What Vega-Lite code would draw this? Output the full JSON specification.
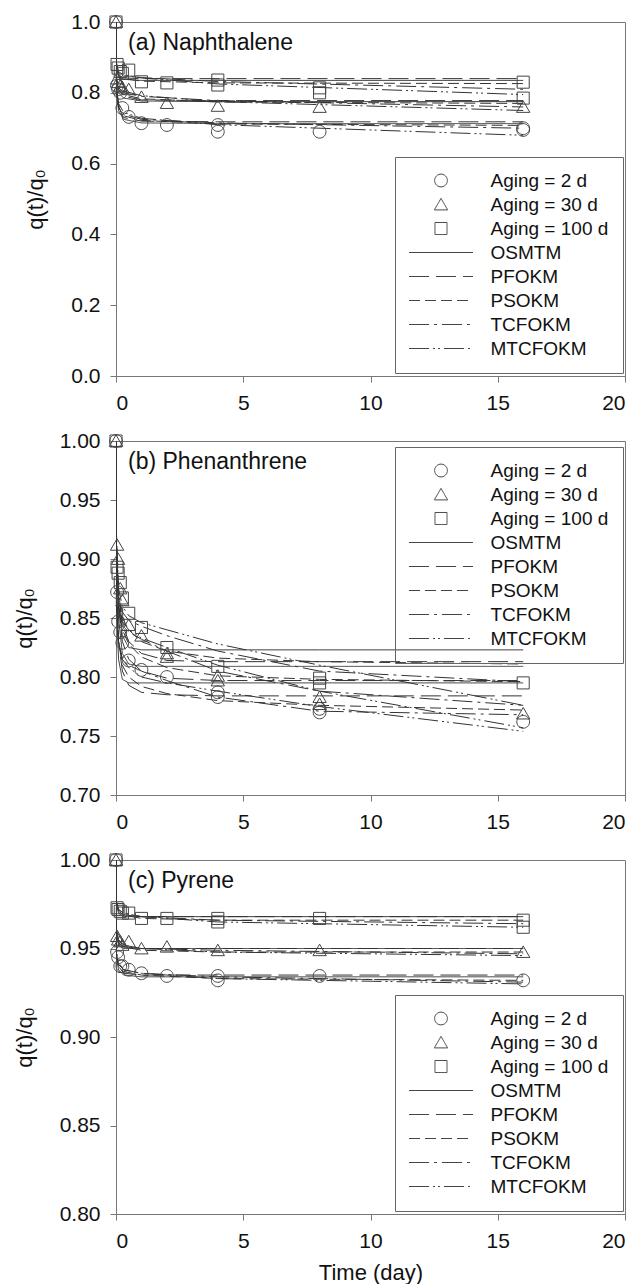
{
"$schema": "https://vega.github.io/schema/vega-lite/v6.json",
"background": "white",
"padding": {"left": 12, "top": 10, "right": 5, "bottom": 0},
"config": {
  "font": "Liberation Sans",
  "view": {"stroke": "#777", "strokeWidth": 1},
  "axis": {"domainColor": "#777", "tickColor": "#777", "labelColor": "#111", "titleColor": "#111", "labelFontSize": 21, "titleFontSize": 22, "titleFontWeight": "normal", "grid": false, "tickSize": 6, "labelPadding": 10, "labelFont": "Liberation Sans", "titleFont": "Liberation Sans"},
  "axisY": {"titlePadding": 23},
  "axisX": {"titlePadding": 11},
  "legend": {"orient": "none", "strokeColor": "#666", "padding": 14, "labelFontSize": 19, "labelFont": "Liberation Sans", "labelColor": "#111", "labelOffset": 40, "symbolOffset": 22.5, "rowPadding": 4.0, "symbolStrokeWidth": 1, "symbolStrokeColor": "#444", "symbolFillColor": "transparent", "symbolSize": 324},
  "title": {"fontSize": 23, "fontWeight": "normal", "anchor": "start", "frame": "group", "color": "#111", "font": "Liberation Sans"}
},
"datasets": {
"pts": [
{"p":"a","s":"Aging = 2 d","t":0,"v":1.0},{"p":"a","s":"Aging = 2 d","t":0.042,"v":0.82},{"p":"a","s":"Aging = 2 d","t":0.083,"v":0.81},{"p":"a","s":"Aging = 2 d","t":0.167,"v":0.8},{"p":"a","s":"Aging = 2 d","t":0.25,"v":0.757},{"p":"a","s":"Aging = 2 d","t":0.5,"v":0.732},{"p":"a","s":"Aging = 2 d","t":1,"v":0.714},{"p":"a","s":"Aging = 2 d","t":2,"v":0.709},{"p":"a","s":"Aging = 2 d","t":4,"v":0.709},{"p":"a","s":"Aging = 2 d","t":4,"v":0.69},{"p":"a","s":"Aging = 2 d","t":8,"v":0.69},{"p":"a","s":"Aging = 2 d","t":16,"v":0.695},{"p":"a","s":"Aging = 2 d","t":16,"v":0.7},
{"p":"a","s":"Aging = 30 d","t":0,"v":1.0},{"p":"a","s":"Aging = 30 d","t":0.042,"v":0.84},{"p":"a","s":"Aging = 30 d","t":0.083,"v":0.83},{"p":"a","s":"Aging = 30 d","t":0.167,"v":0.82},{"p":"a","s":"Aging = 30 d","t":0.25,"v":0.815},{"p":"a","s":"Aging = 30 d","t":0.5,"v":0.81},{"p":"a","s":"Aging = 30 d","t":1,"v":0.788},{"p":"a","s":"Aging = 30 d","t":2,"v":0.771},{"p":"a","s":"Aging = 30 d","t":4,"v":0.763},{"p":"a","s":"Aging = 30 d","t":8,"v":0.76},{"p":"a","s":"Aging = 30 d","t":16,"v":0.76},
{"p":"a","s":"Aging = 100 d","t":0,"v":1.0},{"p":"a","s":"Aging = 100 d","t":0.042,"v":0.88},{"p":"a","s":"Aging = 100 d","t":0.083,"v":0.87},{"p":"a","s":"Aging = 100 d","t":0.167,"v":0.86},{"p":"a","s":"Aging = 100 d","t":0.25,"v":0.855},{"p":"a","s":"Aging = 100 d","t":0.5,"v":0.864},{"p":"a","s":"Aging = 100 d","t":1,"v":0.831},{"p":"a","s":"Aging = 100 d","t":2,"v":0.828},{"p":"a","s":"Aging = 100 d","t":4,"v":0.836},{"p":"a","s":"Aging = 100 d","t":4,"v":0.822},{"p":"a","s":"Aging = 100 d","t":8,"v":0.814},{"p":"a","s":"Aging = 100 d","t":8,"v":0.8},{"p":"a","s":"Aging = 100 d","t":16,"v":0.83},{"p":"a","s":"Aging = 100 d","t":16,"v":0.785},
{"p":"b","s":"Aging = 2 d","t":0,"v":1.0},{"p":"b","s":"Aging = 2 d","t":0.042,"v":0.872},{"p":"b","s":"Aging = 2 d","t":0.083,"v":0.847},{"p":"b","s":"Aging = 2 d","t":0.167,"v":0.838},{"p":"b","s":"Aging = 2 d","t":0.25,"v":0.829},{"p":"b","s":"Aging = 2 d","t":0.5,"v":0.814},{"p":"b","s":"Aging = 2 d","t":1,"v":0.806},{"p":"b","s":"Aging = 2 d","t":2,"v":0.8},{"p":"b","s":"Aging = 2 d","t":4,"v":0.787},{"p":"b","s":"Aging = 2 d","t":4,"v":0.783},{"p":"b","s":"Aging = 2 d","t":8,"v":0.773},{"p":"b","s":"Aging = 2 d","t":8,"v":0.77},{"p":"b","s":"Aging = 2 d","t":16,"v":0.762},
{"p":"b","s":"Aging = 30 d","t":0,"v":1.0},{"p":"b","s":"Aging = 30 d","t":0.042,"v":0.912},{"p":"b","s":"Aging = 30 d","t":0.083,"v":0.9},{"p":"b","s":"Aging = 30 d","t":0.167,"v":0.875},{"p":"b","s":"Aging = 30 d","t":0.25,"v":0.865},{"p":"b","s":"Aging = 30 d","t":0.5,"v":0.844},{"p":"b","s":"Aging = 30 d","t":1,"v":0.835},{"p":"b","s":"Aging = 30 d","t":2,"v":0.82},{"p":"b","s":"Aging = 30 d","t":2,"v":0.817},{"p":"b","s":"Aging = 30 d","t":4,"v":0.801},{"p":"b","s":"Aging = 30 d","t":4,"v":0.797},{"p":"b","s":"Aging = 30 d","t":8,"v":0.783},{"p":"b","s":"Aging = 30 d","t":8,"v":0.777},{"p":"b","s":"Aging = 30 d","t":16,"v":0.769},
{"p":"b","s":"Aging = 100 d","t":0,"v":1.0},{"p":"b","s":"Aging = 100 d","t":0.042,"v":0.893},{"p":"b","s":"Aging = 100 d","t":0.083,"v":0.888},{"p":"b","s":"Aging = 100 d","t":0.167,"v":0.88},{"p":"b","s":"Aging = 100 d","t":0.25,"v":0.867},{"p":"b","s":"Aging = 100 d","t":0.5,"v":0.854},{"p":"b","s":"Aging = 100 d","t":1,"v":0.842},{"p":"b","s":"Aging = 100 d","t":2,"v":0.825},{"p":"b","s":"Aging = 100 d","t":4,"v":0.809},{"p":"b","s":"Aging = 100 d","t":8,"v":0.799},{"p":"b","s":"Aging = 100 d","t":8,"v":0.795},{"p":"b","s":"Aging = 100 d","t":16,"v":0.795},
{"p":"c","s":"Aging = 2 d","t":0,"v":1.0},{"p":"c","s":"Aging = 2 d","t":0.042,"v":0.948},{"p":"c","s":"Aging = 2 d","t":0.083,"v":0.945},{"p":"c","s":"Aging = 2 d","t":0.167,"v":0.94},{"p":"c","s":"Aging = 2 d","t":0.25,"v":0.94},{"p":"c","s":"Aging = 2 d","t":0.5,"v":0.938},{"p":"c","s":"Aging = 2 d","t":1,"v":0.936},{"p":"c","s":"Aging = 2 d","t":2,"v":0.9345},{"p":"c","s":"Aging = 2 d","t":4,"v":0.9345},{"p":"c","s":"Aging = 2 d","t":4,"v":0.932},{"p":"c","s":"Aging = 2 d","t":8,"v":0.9345},{"p":"c","s":"Aging = 2 d","t":16,"v":0.932},
{"p":"c","s":"Aging = 30 d","t":0,"v":1.0},{"p":"c","s":"Aging = 30 d","t":0.042,"v":0.957},{"p":"c","s":"Aging = 30 d","t":0.083,"v":0.955},{"p":"c","s":"Aging = 30 d","t":0.167,"v":0.954},{"p":"c","s":"Aging = 30 d","t":0.25,"v":0.952},{"p":"c","s":"Aging = 30 d","t":0.5,"v":0.954},{"p":"c","s":"Aging = 30 d","t":1,"v":0.95},{"p":"c","s":"Aging = 30 d","t":2,"v":0.951},{"p":"c","s":"Aging = 30 d","t":4,"v":0.949},{"p":"c","s":"Aging = 30 d","t":8,"v":0.949},{"p":"c","s":"Aging = 30 d","t":16,"v":0.948},
{"p":"c","s":"Aging = 100 d","t":0,"v":1.0},{"p":"c","s":"Aging = 100 d","t":0.042,"v":0.973},{"p":"c","s":"Aging = 100 d","t":0.083,"v":0.972},{"p":"c","s":"Aging = 100 d","t":0.167,"v":0.971},{"p":"c","s":"Aging = 100 d","t":0.25,"v":0.97},{"p":"c","s":"Aging = 100 d","t":0.5,"v":0.97},{"p":"c","s":"Aging = 100 d","t":1,"v":0.967},{"p":"c","s":"Aging = 100 d","t":2,"v":0.967},{"p":"c","s":"Aging = 100 d","t":4,"v":0.967},{"p":"c","s":"Aging = 100 d","t":4,"v":0.965},{"p":"c","s":"Aging = 100 d","t":8,"v":0.967},{"p":"c","s":"Aging = 100 d","t":16,"v":0.966},{"p":"c","s":"Aging = 100 d","t":16,"v":0.962}
],
"crv": [
{"p":"a","s":"OSMTM","g":"100","t":0,"v":1},{"p":"a","s":"OSMTM","g":"100","t":0.02,"v":0.87},{"p":"a","s":"OSMTM","g":"100","t":0.1,"v":0.845},{"p":"a","s":"OSMTM","g":"100","t":0.3,"v":0.838},{"p":"a","s":"OSMTM","g":"100","t":1,"v":0.835},{"p":"a","s":"OSMTM","g":"100","t":4,"v":0.835},{"p":"a","s":"OSMTM","g":"100","t":16,"v":0.835},
{"p":"a","s":"PFOKM","g":"100","t":0,"v":1},{"p":"a","s":"PFOKM","g":"100","t":0.02,"v":0.88},{"p":"a","s":"PFOKM","g":"100","t":0.1,"v":0.85},{"p":"a","s":"PFOKM","g":"100","t":0.3,"v":0.842},{"p":"a","s":"PFOKM","g":"100","t":1,"v":0.84},{"p":"a","s":"PFOKM","g":"100","t":4,"v":0.84},{"p":"a","s":"PFOKM","g":"100","t":16,"v":0.84},
{"p":"a","s":"PSOKM","g":"100","t":0,"v":1},{"p":"a","s":"PSOKM","g":"100","t":0.02,"v":0.875},{"p":"a","s":"PSOKM","g":"100","t":0.1,"v":0.85},{"p":"a","s":"PSOKM","g":"100","t":0.3,"v":0.84},{"p":"a","s":"PSOKM","g":"100","t":1,"v":0.833},{"p":"a","s":"PSOKM","g":"100","t":4,"v":0.828},{"p":"a","s":"PSOKM","g":"100","t":16,"v":0.826},
{"p":"a","s":"TCFOKM","g":"100","t":0,"v":1},{"p":"a","s":"TCFOKM","g":"100","t":0.02,"v":0.88},{"p":"a","s":"TCFOKM","g":"100","t":0.1,"v":0.855},{"p":"a","s":"TCFOKM","g":"100","t":0.3,"v":0.848},{"p":"a","s":"TCFOKM","g":"100","t":1,"v":0.843},{"p":"a","s":"TCFOKM","g":"100","t":4,"v":0.832},{"p":"a","s":"TCFOKM","g":"100","t":16,"v":0.81},
{"p":"a","s":"MTCFOKM","g":"100","t":0,"v":1},{"p":"a","s":"MTCFOKM","g":"100","t":0.02,"v":0.885},{"p":"a","s":"MTCFOKM","g":"100","t":0.1,"v":0.86},{"p":"a","s":"MTCFOKM","g":"100","t":0.3,"v":0.85},{"p":"a","s":"MTCFOKM","g":"100","t":1,"v":0.842},{"p":"a","s":"MTCFOKM","g":"100","t":4,"v":0.825},{"p":"a","s":"MTCFOKM","g":"100","t":16,"v":0.795},
{"p":"a","s":"OSMTM","g":"30","t":0,"v":1},{"p":"a","s":"OSMTM","g":"30","t":0.02,"v":0.83},{"p":"a","s":"OSMTM","g":"30","t":0.1,"v":0.8},{"p":"a","s":"OSMTM","g":"30","t":0.3,"v":0.785},{"p":"a","s":"OSMTM","g":"30","t":1,"v":0.777},{"p":"a","s":"OSMTM","g":"30","t":4,"v":0.775},{"p":"a","s":"OSMTM","g":"30","t":16,"v":0.775},
{"p":"a","s":"PFOKM","g":"30","t":0,"v":1},{"p":"a","s":"PFOKM","g":"30","t":0.02,"v":0.84},{"p":"a","s":"PFOKM","g":"30","t":0.1,"v":0.81},{"p":"a","s":"PFOKM","g":"30","t":0.3,"v":0.79},{"p":"a","s":"PFOKM","g":"30","t":1,"v":0.78},{"p":"a","s":"PFOKM","g":"30","t":4,"v":0.778},{"p":"a","s":"PFOKM","g":"30","t":16,"v":0.778},
{"p":"a","s":"PSOKM","g":"30","t":0,"v":1},{"p":"a","s":"PSOKM","g":"30","t":0.02,"v":0.835},{"p":"a","s":"PSOKM","g":"30","t":0.1,"v":0.81},{"p":"a","s":"PSOKM","g":"30","t":0.3,"v":0.795},{"p":"a","s":"PSOKM","g":"30","t":1,"v":0.783},{"p":"a","s":"PSOKM","g":"30","t":4,"v":0.774},{"p":"a","s":"PSOKM","g":"30","t":16,"v":0.77},
{"p":"a","s":"TCFOKM","g":"30","t":0,"v":1},{"p":"a","s":"TCFOKM","g":"30","t":0.02,"v":0.84},{"p":"a","s":"TCFOKM","g":"30","t":0.1,"v":0.815},{"p":"a","s":"TCFOKM","g":"30","t":0.3,"v":0.8},{"p":"a","s":"TCFOKM","g":"30","t":1,"v":0.79},{"p":"a","s":"TCFOKM","g":"30","t":4,"v":0.778},{"p":"a","s":"TCFOKM","g":"30","t":16,"v":0.76},
{"p":"a","s":"MTCFOKM","g":"30","t":0,"v":1},{"p":"a","s":"MTCFOKM","g":"30","t":0.02,"v":0.845},{"p":"a","s":"MTCFOKM","g":"30","t":0.1,"v":0.82},{"p":"a","s":"MTCFOKM","g":"30","t":0.3,"v":0.805},{"p":"a","s":"MTCFOKM","g":"30","t":1,"v":0.792},{"p":"a","s":"MTCFOKM","g":"30","t":4,"v":0.775},{"p":"a","s":"MTCFOKM","g":"30","t":16,"v":0.75},
{"p":"a","s":"OSMTM","g":"2","t":0,"v":1},{"p":"a","s":"OSMTM","g":"2","t":0.02,"v":0.8},{"p":"a","s":"OSMTM","g":"2","t":0.1,"v":0.75},{"p":"a","s":"OSMTM","g":"2","t":0.3,"v":0.725},{"p":"a","s":"OSMTM","g":"2","t":1,"v":0.715},{"p":"a","s":"OSMTM","g":"2","t":4,"v":0.713},{"p":"a","s":"OSMTM","g":"2","t":16,"v":0.713},
{"p":"a","s":"PFOKM","g":"2","t":0,"v":1},{"p":"a","s":"PFOKM","g":"2","t":0.02,"v":0.81},{"p":"a","s":"PFOKM","g":"2","t":0.1,"v":0.76},{"p":"a","s":"PFOKM","g":"2","t":0.3,"v":0.73},{"p":"a","s":"PFOKM","g":"2","t":1,"v":0.72},{"p":"a","s":"PFOKM","g":"2","t":4,"v":0.718},{"p":"a","s":"PFOKM","g":"2","t":16,"v":0.718},
{"p":"a","s":"PSOKM","g":"2","t":0,"v":1},{"p":"a","s":"PSOKM","g":"2","t":0.02,"v":0.8},{"p":"a","s":"PSOKM","g":"2","t":0.1,"v":0.76},{"p":"a","s":"PSOKM","g":"2","t":0.3,"v":0.735},{"p":"a","s":"PSOKM","g":"2","t":1,"v":0.722},{"p":"a","s":"PSOKM","g":"2","t":4,"v":0.712},{"p":"a","s":"PSOKM","g":"2","t":16,"v":0.708},
{"p":"a","s":"TCFOKM","g":"2","t":0,"v":1},{"p":"a","s":"TCFOKM","g":"2","t":0.02,"v":0.81},{"p":"a","s":"TCFOKM","g":"2","t":0.1,"v":0.765},{"p":"a","s":"TCFOKM","g":"2","t":0.3,"v":0.74},{"p":"a","s":"TCFOKM","g":"2","t":1,"v":0.725},{"p":"a","s":"TCFOKM","g":"2","t":4,"v":0.715},{"p":"a","s":"TCFOKM","g":"2","t":16,"v":0.7},
{"p":"a","s":"MTCFOKM","g":"2","t":0,"v":1},{"p":"a","s":"MTCFOKM","g":"2","t":0.02,"v":0.815},{"p":"a","s":"MTCFOKM","g":"2","t":0.1,"v":0.77},{"p":"a","s":"MTCFOKM","g":"2","t":0.3,"v":0.745},{"p":"a","s":"MTCFOKM","g":"2","t":1,"v":0.728},{"p":"a","s":"MTCFOKM","g":"2","t":4,"v":0.71},{"p":"a","s":"MTCFOKM","g":"2","t":16,"v":0.68},
{"p":"b","s":"OSMTM","g":"100","t":0,"v":1},{"p":"b","s":"OSMTM","g":"100","t":0.02,"v":0.9},{"p":"b","s":"OSMTM","g":"100","t":0.1,"v":0.86},{"p":"b","s":"OSMTM","g":"100","t":0.25,"v":0.835},{"p":"b","s":"OSMTM","g":"100","t":0.5,"v":0.825},{"p":"b","s":"OSMTM","g":"100","t":1,"v":0.823},{"p":"b","s":"OSMTM","g":"100","t":2,"v":0.823},{"p":"b","s":"OSMTM","g":"100","t":4,"v":0.823},{"p":"b","s":"OSMTM","g":"100","t":8,"v":0.823},{"p":"b","s":"OSMTM","g":"100","t":16,"v":0.823},
{"p":"b","s":"PFOKM","g":"100","t":0,"v":1},{"p":"b","s":"PFOKM","g":"100","t":0.02,"v":0.92},{"p":"b","s":"PFOKM","g":"100","t":0.1,"v":0.87},{"p":"b","s":"PFOKM","g":"100","t":0.25,"v":0.845},{"p":"b","s":"PFOKM","g":"100","t":0.5,"v":0.83},{"p":"b","s":"PFOKM","g":"100","t":1,"v":0.82},{"p":"b","s":"PFOKM","g":"100","t":2,"v":0.814},{"p":"b","s":"PFOKM","g":"100","t":4,"v":0.813},{"p":"b","s":"PFOKM","g":"100","t":8,"v":0.813},{"p":"b","s":"PFOKM","g":"100","t":16,"v":0.813},
{"p":"b","s":"PSOKM","g":"100","t":0,"v":1},{"p":"b","s":"PSOKM","g":"100","t":0.02,"v":0.91},{"p":"b","s":"PSOKM","g":"100","t":0.1,"v":0.87},{"p":"b","s":"PSOKM","g":"100","t":0.25,"v":0.85},{"p":"b","s":"PSOKM","g":"100","t":0.5,"v":0.84},{"p":"b","s":"PSOKM","g":"100","t":1,"v":0.83},{"p":"b","s":"PSOKM","g":"100","t":2,"v":0.822},{"p":"b","s":"PSOKM","g":"100","t":4,"v":0.816},{"p":"b","s":"PSOKM","g":"100","t":8,"v":0.813},{"p":"b","s":"PSOKM","g":"100","t":16,"v":0.811},
{"p":"b","s":"TCFOKM","g":"100","t":0,"v":1},{"p":"b","s":"TCFOKM","g":"100","t":0.02,"v":0.91},{"p":"b","s":"TCFOKM","g":"100","t":0.1,"v":0.87},{"p":"b","s":"TCFOKM","g":"100","t":0.25,"v":0.855},{"p":"b","s":"TCFOKM","g":"100","t":0.5,"v":0.848},{"p":"b","s":"TCFOKM","g":"100","t":1,"v":0.843},{"p":"b","s":"TCFOKM","g":"100","t":2,"v":0.835},{"p":"b","s":"TCFOKM","g":"100","t":4,"v":0.822},{"p":"b","s":"TCFOKM","g":"100","t":8,"v":0.805},{"p":"b","s":"TCFOKM","g":"100","t":16,"v":0.796},
{"p":"b","s":"MTCFOKM","g":"100","t":0,"v":1},{"p":"b","s":"MTCFOKM","g":"100","t":0.02,"v":0.92},{"p":"b","s":"MTCFOKM","g":"100","t":0.1,"v":0.875},{"p":"b","s":"MTCFOKM","g":"100","t":0.25,"v":0.86},{"p":"b","s":"MTCFOKM","g":"100","t":0.5,"v":0.852},{"p":"b","s":"MTCFOKM","g":"100","t":1,"v":0.846},{"p":"b","s":"MTCFOKM","g":"100","t":2,"v":0.84},{"p":"b","s":"MTCFOKM","g":"100","t":4,"v":0.828},{"p":"b","s":"MTCFOKM","g":"100","t":8,"v":0.81},{"p":"b","s":"MTCFOKM","g":"100","t":16,"v":0.776},
{"p":"b","s":"OSMTM","g":"30","t":0,"v":1},{"p":"b","s":"OSMTM","g":"30","t":0.02,"v":0.9},{"p":"b","s":"OSMTM","g":"30","t":0.1,"v":0.85},{"p":"b","s":"OSMTM","g":"30","t":0.25,"v":0.82},{"p":"b","s":"OSMTM","g":"30","t":0.5,"v":0.811},{"p":"b","s":"OSMTM","g":"30","t":1,"v":0.809},{"p":"b","s":"OSMTM","g":"30","t":2,"v":0.809},{"p":"b","s":"OSMTM","g":"30","t":4,"v":0.809},{"p":"b","s":"OSMTM","g":"30","t":8,"v":0.809},{"p":"b","s":"OSMTM","g":"30","t":16,"v":0.809},
{"p":"b","s":"PFOKM","g":"30","t":0,"v":1},{"p":"b","s":"PFOKM","g":"30","t":0.02,"v":0.91},{"p":"b","s":"PFOKM","g":"30","t":0.1,"v":0.86},{"p":"b","s":"PFOKM","g":"30","t":0.25,"v":0.83},{"p":"b","s":"PFOKM","g":"30","t":0.5,"v":0.815},{"p":"b","s":"PFOKM","g":"30","t":1,"v":0.805},{"p":"b","s":"PFOKM","g":"30","t":2,"v":0.799},{"p":"b","s":"PFOKM","g":"30","t":4,"v":0.797},{"p":"b","s":"PFOKM","g":"30","t":8,"v":0.797},{"p":"b","s":"PFOKM","g":"30","t":16,"v":0.797},
{"p":"b","s":"PSOKM","g":"30","t":0,"v":1},{"p":"b","s":"PSOKM","g":"30","t":0.02,"v":0.905},{"p":"b","s":"PSOKM","g":"30","t":0.1,"v":0.86},{"p":"b","s":"PSOKM","g":"30","t":0.25,"v":0.84},{"p":"b","s":"PSOKM","g":"30","t":0.5,"v":0.828},{"p":"b","s":"PSOKM","g":"30","t":1,"v":0.817},{"p":"b","s":"PSOKM","g":"30","t":2,"v":0.808},{"p":"b","s":"PSOKM","g":"30","t":4,"v":0.801},{"p":"b","s":"PSOKM","g":"30","t":8,"v":0.798},{"p":"b","s":"PSOKM","g":"30","t":16,"v":0.796},
{"p":"b","s":"TCFOKM","g":"30","t":0,"v":1},{"p":"b","s":"TCFOKM","g":"30","t":0.02,"v":0.9},{"p":"b","s":"TCFOKM","g":"30","t":0.1,"v":0.86},{"p":"b","s":"TCFOKM","g":"30","t":0.25,"v":0.845},{"p":"b","s":"TCFOKM","g":"30","t":0.5,"v":0.838},{"p":"b","s":"TCFOKM","g":"30","t":1,"v":0.832},{"p":"b","s":"TCFOKM","g":"30","t":2,"v":0.822},{"p":"b","s":"TCFOKM","g":"30","t":4,"v":0.805},{"p":"b","s":"TCFOKM","g":"30","t":8,"v":0.788},{"p":"b","s":"TCFOKM","g":"30","t":16,"v":0.776},
{"p":"b","s":"MTCFOKM","g":"30","t":0,"v":1},{"p":"b","s":"MTCFOKM","g":"30","t":0.02,"v":0.91},{"p":"b","s":"MTCFOKM","g":"30","t":0.1,"v":0.865},{"p":"b","s":"MTCFOKM","g":"30","t":0.25,"v":0.847},{"p":"b","s":"MTCFOKM","g":"30","t":0.5,"v":0.84},{"p":"b","s":"MTCFOKM","g":"30","t":1,"v":0.833},{"p":"b","s":"MTCFOKM","g":"30","t":2,"v":0.825},{"p":"b","s":"MTCFOKM","g":"30","t":4,"v":0.81},{"p":"b","s":"MTCFOKM","g":"30","t":8,"v":0.788},{"p":"b","s":"MTCFOKM","g":"30","t":16,"v":0.757},
{"p":"b","s":"OSMTM","g":"2","t":0,"v":1},{"p":"b","s":"OSMTM","g":"2","t":0.02,"v":0.86},{"p":"b","s":"OSMTM","g":"2","t":0.1,"v":0.815},{"p":"b","s":"OSMTM","g":"2","t":0.25,"v":0.798},{"p":"b","s":"OSMTM","g":"2","t":0.5,"v":0.795},{"p":"b","s":"OSMTM","g":"2","t":1,"v":0.795},{"p":"b","s":"OSMTM","g":"2","t":2,"v":0.795},{"p":"b","s":"OSMTM","g":"2","t":4,"v":0.795},{"p":"b","s":"OSMTM","g":"2","t":8,"v":0.795},{"p":"b","s":"OSMTM","g":"2","t":16,"v":0.795},
{"p":"b","s":"PFOKM","g":"2","t":0,"v":1},{"p":"b","s":"PFOKM","g":"2","t":0.02,"v":0.88},{"p":"b","s":"PFOKM","g":"2","t":0.1,"v":0.83},{"p":"b","s":"PFOKM","g":"2","t":0.25,"v":0.805},{"p":"b","s":"PFOKM","g":"2","t":0.5,"v":0.793},{"p":"b","s":"PFOKM","g":"2","t":1,"v":0.787},{"p":"b","s":"PFOKM","g":"2","t":2,"v":0.785},{"p":"b","s":"PFOKM","g":"2","t":4,"v":0.784},{"p":"b","s":"PFOKM","g":"2","t":8,"v":0.784},{"p":"b","s":"PFOKM","g":"2","t":16,"v":0.784},
{"p":"b","s":"PSOKM","g":"2","t":0,"v":1},{"p":"b","s":"PSOKM","g":"2","t":0.02,"v":0.87},{"p":"b","s":"PSOKM","g":"2","t":0.1,"v":0.83},{"p":"b","s":"PSOKM","g":"2","t":0.25,"v":0.81},{"p":"b","s":"PSOKM","g":"2","t":0.5,"v":0.8},{"p":"b","s":"PSOKM","g":"2","t":1,"v":0.792},{"p":"b","s":"PSOKM","g":"2","t":2,"v":0.786},{"p":"b","s":"PSOKM","g":"2","t":4,"v":0.78},{"p":"b","s":"PSOKM","g":"2","t":8,"v":0.776},{"p":"b","s":"PSOKM","g":"2","t":16,"v":0.772},
{"p":"b","s":"TCFOKM","g":"2","t":0,"v":1},{"p":"b","s":"TCFOKM","g":"2","t":0.02,"v":0.87},{"p":"b","s":"TCFOKM","g":"2","t":0.1,"v":0.83},{"p":"b","s":"TCFOKM","g":"2","t":0.25,"v":0.815},{"p":"b","s":"TCFOKM","g":"2","t":0.5,"v":0.81},{"p":"b","s":"TCFOKM","g":"2","t":1,"v":0.805},{"p":"b","s":"TCFOKM","g":"2","t":2,"v":0.797},{"p":"b","s":"TCFOKM","g":"2","t":4,"v":0.783},{"p":"b","s":"TCFOKM","g":"2","t":8,"v":0.771},{"p":"b","s":"TCFOKM","g":"2","t":16,"v":0.768},
{"p":"b","s":"MTCFOKM","g":"2","t":0,"v":1},{"p":"b","s":"MTCFOKM","g":"2","t":0.02,"v":0.87},{"p":"b","s":"MTCFOKM","g":"2","t":0.1,"v":0.83},{"p":"b","s":"MTCFOKM","g":"2","t":0.25,"v":0.815},{"p":"b","s":"MTCFOKM","g":"2","t":0.5,"v":0.808},{"p":"b","s":"MTCFOKM","g":"2","t":1,"v":0.8},{"p":"b","s":"MTCFOKM","g":"2","t":2,"v":0.795},{"p":"b","s":"MTCFOKM","g":"2","t":4,"v":0.788},{"p":"b","s":"MTCFOKM","g":"2","t":8,"v":0.775},{"p":"b","s":"MTCFOKM","g":"2","t":16,"v":0.754},
{"p":"c","s":"OSMTM","g":"100","t":0,"v":1},{"p":"c","s":"OSMTM","g":"100","t":0.02,"v":0.975},{"p":"c","s":"OSMTM","g":"100","t":0.1,"v":0.97},{"p":"c","s":"OSMTM","g":"100","t":0.3,"v":0.968},{"p":"c","s":"OSMTM","g":"100","t":1,"v":0.968},{"p":"c","s":"OSMTM","g":"100","t":4,"v":0.968},{"p":"c","s":"OSMTM","g":"100","t":16,"v":0.968},
{"p":"c","s":"PFOKM","g":"100","t":0,"v":1},{"p":"c","s":"PFOKM","g":"100","t":0.02,"v":0.976},{"p":"c","s":"PFOKM","g":"100","t":0.1,"v":0.971},{"p":"c","s":"PFOKM","g":"100","t":0.3,"v":0.969},{"p":"c","s":"PFOKM","g":"100","t":1,"v":0.968},{"p":"c","s":"PFOKM","g":"100","t":4,"v":0.968},{"p":"c","s":"PFOKM","g":"100","t":16,"v":0.968},
{"p":"c","s":"PSOKM","g":"100","t":0,"v":1},{"p":"c","s":"PSOKM","g":"100","t":0.02,"v":0.975},{"p":"c","s":"PSOKM","g":"100","t":0.1,"v":0.971},{"p":"c","s":"PSOKM","g":"100","t":0.3,"v":0.969},{"p":"c","s":"PSOKM","g":"100","t":1,"v":0.967},{"p":"c","s":"PSOKM","g":"100","t":4,"v":0.966},{"p":"c","s":"PSOKM","g":"100","t":16,"v":0.966},
{"p":"c","s":"TCFOKM","g":"100","t":0,"v":1},{"p":"c","s":"TCFOKM","g":"100","t":0.02,"v":0.976},{"p":"c","s":"TCFOKM","g":"100","t":0.1,"v":0.972},{"p":"c","s":"TCFOKM","g":"100","t":0.3,"v":0.97},{"p":"c","s":"TCFOKM","g":"100","t":1,"v":0.968},{"p":"c","s":"TCFOKM","g":"100","t":4,"v":0.966},{"p":"c","s":"TCFOKM","g":"100","t":16,"v":0.964},
{"p":"c","s":"MTCFOKM","g":"100","t":0,"v":1},{"p":"c","s":"MTCFOKM","g":"100","t":0.02,"v":0.977},{"p":"c","s":"MTCFOKM","g":"100","t":0.1,"v":0.972},{"p":"c","s":"MTCFOKM","g":"100","t":0.3,"v":0.97},{"p":"c","s":"MTCFOKM","g":"100","t":1,"v":0.968},{"p":"c","s":"MTCFOKM","g":"100","t":4,"v":0.965},{"p":"c","s":"MTCFOKM","g":"100","t":16,"v":0.962},
{"p":"c","s":"OSMTM","g":"30","t":0,"v":1},{"p":"c","s":"OSMTM","g":"30","t":0.02,"v":0.958},{"p":"c","s":"OSMTM","g":"30","t":0.1,"v":0.952},{"p":"c","s":"OSMTM","g":"30","t":0.3,"v":0.95},{"p":"c","s":"OSMTM","g":"30","t":1,"v":0.95},{"p":"c","s":"OSMTM","g":"30","t":4,"v":0.95},{"p":"c","s":"OSMTM","g":"30","t":16,"v":0.95},
{"p":"c","s":"PFOKM","g":"30","t":0,"v":1},{"p":"c","s":"PFOKM","g":"30","t":0.02,"v":0.96},{"p":"c","s":"PFOKM","g":"30","t":0.1,"v":0.953},{"p":"c","s":"PFOKM","g":"30","t":0.3,"v":0.951},{"p":"c","s":"PFOKM","g":"30","t":1,"v":0.95},{"p":"c","s":"PFOKM","g":"30","t":4,"v":0.95},{"p":"c","s":"PFOKM","g":"30","t":16,"v":0.95},
{"p":"c","s":"PSOKM","g":"30","t":0,"v":1},{"p":"c","s":"PSOKM","g":"30","t":0.02,"v":0.959},{"p":"c","s":"PSOKM","g":"30","t":0.1,"v":0.953},{"p":"c","s":"PSOKM","g":"30","t":0.3,"v":0.951},{"p":"c","s":"PSOKM","g":"30","t":1,"v":0.949},{"p":"c","s":"PSOKM","g":"30","t":4,"v":0.948},{"p":"c","s":"PSOKM","g":"30","t":16,"v":0.948},
{"p":"c","s":"TCFOKM","g":"30","t":0,"v":1},{"p":"c","s":"TCFOKM","g":"30","t":0.02,"v":0.96},{"p":"c","s":"TCFOKM","g":"30","t":0.1,"v":0.954},{"p":"c","s":"TCFOKM","g":"30","t":0.3,"v":0.952},{"p":"c","s":"TCFOKM","g":"30","t":1,"v":0.95},{"p":"c","s":"TCFOKM","g":"30","t":4,"v":0.949},{"p":"c","s":"TCFOKM","g":"30","t":16,"v":0.947},
{"p":"c","s":"MTCFOKM","g":"30","t":0,"v":1},{"p":"c","s":"MTCFOKM","g":"30","t":0.02,"v":0.961},{"p":"c","s":"MTCFOKM","g":"30","t":0.1,"v":0.955},{"p":"c","s":"MTCFOKM","g":"30","t":0.3,"v":0.952},{"p":"c","s":"MTCFOKM","g":"30","t":1,"v":0.95},{"p":"c","s":"MTCFOKM","g":"30","t":4,"v":0.948},{"p":"c","s":"MTCFOKM","g":"30","t":16,"v":0.946},
{"p":"c","s":"OSMTM","g":"2","t":0,"v":1},{"p":"c","s":"OSMTM","g":"2","t":0.02,"v":0.945},{"p":"c","s":"OSMTM","g":"2","t":0.1,"v":0.938},{"p":"c","s":"OSMTM","g":"2","t":0.3,"v":0.935},{"p":"c","s":"OSMTM","g":"2","t":1,"v":0.934},{"p":"c","s":"OSMTM","g":"2","t":4,"v":0.934},{"p":"c","s":"OSMTM","g":"2","t":16,"v":0.934},
{"p":"c","s":"PFOKM","g":"2","t":0,"v":1},{"p":"c","s":"PFOKM","g":"2","t":0.02,"v":0.947},{"p":"c","s":"PFOKM","g":"2","t":0.1,"v":0.94},{"p":"c","s":"PFOKM","g":"2","t":0.3,"v":0.936},{"p":"c","s":"PFOKM","g":"2","t":1,"v":0.935},{"p":"c","s":"PFOKM","g":"2","t":4,"v":0.935},{"p":"c","s":"PFOKM","g":"2","t":16,"v":0.935},
{"p":"c","s":"PSOKM","g":"2","t":0,"v":1},{"p":"c","s":"PSOKM","g":"2","t":0.02,"v":0.946},{"p":"c","s":"PSOKM","g":"2","t":0.1,"v":0.94},{"p":"c","s":"PSOKM","g":"2","t":0.3,"v":0.937},{"p":"c","s":"PSOKM","g":"2","t":1,"v":0.935},{"p":"c","s":"PSOKM","g":"2","t":4,"v":0.933},{"p":"c","s":"PSOKM","g":"2","t":16,"v":0.932},
{"p":"c","s":"TCFOKM","g":"2","t":0,"v":1},{"p":"c","s":"TCFOKM","g":"2","t":0.02,"v":0.947},{"p":"c","s":"TCFOKM","g":"2","t":0.1,"v":0.941},{"p":"c","s":"TCFOKM","g":"2","t":0.3,"v":0.938},{"p":"c","s":"TCFOKM","g":"2","t":1,"v":0.936},{"p":"c","s":"TCFOKM","g":"2","t":4,"v":0.934},{"p":"c","s":"TCFOKM","g":"2","t":16,"v":0.931},
{"p":"c","s":"MTCFOKM","g":"2","t":0,"v":1},{"p":"c","s":"MTCFOKM","g":"2","t":0.02,"v":0.948},{"p":"c","s":"MTCFOKM","g":"2","t":0.1,"v":0.942},{"p":"c","s":"MTCFOKM","g":"2","t":0.3,"v":0.938},{"p":"c","s":"MTCFOKM","g":"2","t":1,"v":0.936},{"p":"c","s":"MTCFOKM","g":"2","t":4,"v":0.933},{"p":"c","s":"MTCFOKM","g":"2","t":16,"v":0.93}
]
},
"spacing": 15,
"resolve": {"scale": {"shape": "independent", "strokeDash": "independent"}, "legend": {"shape": "independent", "strokeDash": "independent"}},
"vconcat": [
{
 "width": 509, "height": 354,
 "title": {"text": "(a) Naphthalene", "offset": -44, "dx": 12, "baseline": "top"},
 "layer": [
  {"data": {"name": "crv"}, "transform": [{"filter": "datum.p == 'a'"}],
   "mark": {"type": "line", "stroke": "#333", "strokeWidth": 1, "clip": true},
   "encoding": {
    "x": {"field": "t", "type": "quantitative", "scale": {"domain": [0, 20], "nice": false}, "axis": {"values": [0, 5, 10, 15, 20], "title": null}},
    "y": {"field": "v", "type": "quantitative", "scale": {"domain": [0, 1], "nice": false}, "axis": {"values": [0, 0.2, 0.4, 0.6, 0.8, 1.0], "format": ".1f", "title": "q(t)/q₀"}},
    "detail": {"field": "g", "type": "nominal"},
    "strokeDash": {"field": "s", "type": "nominal",
      "scale": {"domain": ["Aging = 2 d","Aging = 30 d","Aging = 100 d","OSMTM","PFOKM","PSOKM","TCFOKM","MTCFOKM"], "range": [[1,0],[1,0],[1,0],[1,0],[20,7],[11,5],[20,5,3,5],[20,4,2,3,2,4]]},
      "legend": {"title": null, "legendX": 279, "legendY": 135}}
   }},
  {"data": {"name": "pts"}, "transform": [{"filter": "datum.p == 'a'"}],
   "mark": {"type": "point", "filled": false, "stroke": "#444", "strokeWidth": 1, "size": 324, "opacity": 1},
   "encoding": {
    "x": {"field": "t", "type": "quantitative"},
    "y": {"field": "v", "type": "quantitative"},
    "shape": {"field": "s", "type": "nominal",
      "scale": {"domain": ["Aging = 2 d","Aging = 30 d","Aging = 100 d","OSMTM","PFOKM","PSOKM","TCFOKM","MTCFOKM"], "range": ["M0.71,0A0.71,0.71,0,1,1,-0.71,0A0.71,0.71,0,1,1,0.71,0Z","M0,-0.68L0.74,0.6L-0.74,0.6Z","M-0.67,-0.67L0.67,-0.67L0.67,0.67L-0.67,0.67Z","M-3.556,0L3.556,0","M-3.556,0L3.556,0","M-3.556,0L3.556,0","M-3.556,0L3.556,0","M-3.556,0L3.556,0"]},
      "legend": {"title": null, "legendX": 279, "legendY": 135}}
   }}
 ]
},
{
 "width": 509, "height": 354,
 "title": {"text": "(b) Phenanthrene", "offset": -44, "dx": 12, "baseline": "top"},
 "layer": [
  {"data": {"name": "crv"}, "transform": [{"filter": "datum.p == 'b'"}],
   "mark": {"type": "line", "stroke": "#333", "strokeWidth": 1, "clip": true},
   "encoding": {
    "x": {"field": "t", "type": "quantitative", "scale": {"domain": [0, 20], "nice": false}, "axis": {"values": [0, 5, 10, 15, 20], "title": null}},
    "y": {"field": "v", "type": "quantitative", "scale": {"domain": [0.7, 1], "nice": false, "zero": false}, "axis": {"values": [0.7, 0.75, 0.8, 0.85, 0.9, 0.95, 1.0], "format": ".2f", "title": "q(t)/q₀"}},
    "detail": {"field": "g", "type": "nominal"},
    "strokeDash": {"field": "s", "type": "nominal",
      "scale": {"domain": ["Aging = 2 d","Aging = 30 d","Aging = 100 d","OSMTM","PFOKM","PSOKM","TCFOKM","MTCFOKM"], "range": [[1,0],[1,0],[1,0],[1,0],[20,7],[11,5],[20,5,3,5],[20,4,2,3,2,4]]},
      "legend": {"title": null, "legendX": 279, "legendY": 6}}
   }},
  {"data": {"name": "pts"}, "transform": [{"filter": "datum.p == 'b'"}],
   "mark": {"type": "point", "filled": false, "stroke": "#444", "strokeWidth": 1, "size": 324, "opacity": 1},
   "encoding": {
    "x": {"field": "t", "type": "quantitative"},
    "y": {"field": "v", "type": "quantitative"},
    "shape": {"field": "s", "type": "nominal",
      "scale": {"domain": ["Aging = 2 d","Aging = 30 d","Aging = 100 d","OSMTM","PFOKM","PSOKM","TCFOKM","MTCFOKM"], "range": ["M0.71,0A0.71,0.71,0,1,1,-0.71,0A0.71,0.71,0,1,1,0.71,0Z","M0,-0.68L0.74,0.6L-0.74,0.6Z","M-0.67,-0.67L0.67,-0.67L0.67,0.67L-0.67,0.67Z","M-3.556,0L3.556,0","M-3.556,0L3.556,0","M-3.556,0L3.556,0","M-3.556,0L3.556,0","M-3.556,0L3.556,0"]},
      "legend": {"title": null, "legendX": 279, "legendY": 6}}
   }}
 ]
},
{
 "width": 509, "height": 354,
 "title": {"text": "(c) Pyrene", "offset": -44, "dx": 12, "baseline": "top"},
 "layer": [
  {"data": {"name": "crv"}, "transform": [{"filter": "datum.p == 'c'"}],
   "mark": {"type": "line", "stroke": "#333", "strokeWidth": 1, "clip": true},
   "encoding": {
    "x": {"field": "t", "type": "quantitative", "scale": {"domain": [0, 20], "nice": false}, "axis": {"values": [0, 5, 10, 15, 20], "title": "Time (day)"}},
    "y": {"field": "v", "type": "quantitative", "scale": {"domain": [0.8, 1], "nice": false, "zero": false}, "axis": {"values": [0.8, 0.85, 0.9, 0.95, 1.0], "format": ".2f", "title": "q(t)/q₀"}},
    "detail": {"field": "g", "type": "nominal"},
    "strokeDash": {"field": "s", "type": "nominal",
      "scale": {"domain": ["Aging = 2 d","Aging = 30 d","Aging = 100 d","OSMTM","PFOKM","PSOKM","TCFOKM","MTCFOKM"], "range": [[1,0],[1,0],[1,0],[1,0],[20,7],[11,5],[20,5,3,5],[20,4,2,3,2,4]]},
      "legend": {"title": null, "legendX": 279, "legendY": 135}}
   }},
  {"data": {"name": "pts"}, "transform": [{"filter": "datum.p == 'c'"}],
   "mark": {"type": "point", "filled": false, "stroke": "#444", "strokeWidth": 1, "size": 324, "opacity": 1},
   "encoding": {
    "x": {"field": "t", "type": "quantitative"},
    "y": {"field": "v", "type": "quantitative"},
    "shape": {"field": "s", "type": "nominal",
      "scale": {"domain": ["Aging = 2 d","Aging = 30 d","Aging = 100 d","OSMTM","PFOKM","PSOKM","TCFOKM","MTCFOKM"], "range": ["M0.71,0A0.71,0.71,0,1,1,-0.71,0A0.71,0.71,0,1,1,0.71,0Z","M0,-0.68L0.74,0.6L-0.74,0.6Z","M-0.67,-0.67L0.67,-0.67L0.67,0.67L-0.67,0.67Z","M-3.556,0L3.556,0","M-3.556,0L3.556,0","M-3.556,0L3.556,0","M-3.556,0L3.556,0","M-3.556,0L3.556,0"]},
      "legend": {"title": null, "legendX": 279, "legendY": 135}}
   }}
 ]
}
]
}
